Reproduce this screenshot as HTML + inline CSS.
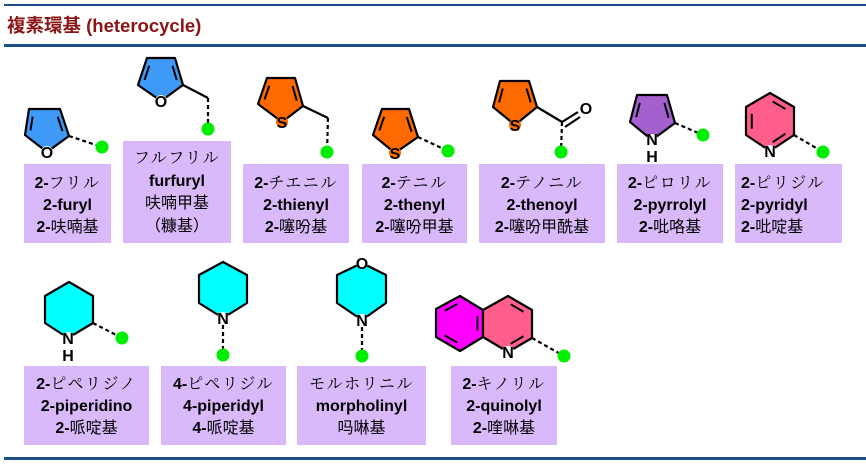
<!DOCTYPE html>
<html><head><meta charset="utf-8">
<style>
html,body{margin:0;padding:0;background:#fff;}
body{width:866px;height:465px;position:relative;overflow:hidden;font-family:"Liberation Sans","Noto Sans CJK JP",sans-serif;}
.hl{position:absolute;left:4px;right:0;background:#1f4f8a;}
.title{position:absolute;left:7px;top:12px;font-size:18.5px;font-weight:bold;color:#8b1414;white-space:nowrap;letter-spacing:0px;}
.box{position:absolute;background:#d9b9f9;text-align:center;font-size:16px;line-height:22px;color:#000;white-space:nowrap;}
.b{font-weight:bold;}
.k{font-family:"Noto Serif CJK JP","Liberation Serif",serif;font-weight:normal;letter-spacing:1.5px;}
svg{position:absolute;left:0;top:0;}
</style></head><body>
<div class="hl" style="top:4px;height:2px"></div>
<div class="title">複素環基 (heterocycle)</div>
<div class="hl" style="top:44px;height:3px"></div>
<div class="hl" style="top:457px;height:3px"></div>

<div class="box" style="left:24px;top:164px;width:87px;height:79px;padding-top:7px;box-sizing:border-box"><span class="b">2-</span><span class="k">フリル</span><br><span class="b">2-furyl</span><br><span class="b">2-</span>呋喃基</div>
<div class="box" style="left:123px;top:141px;width:108px;height:102px;padding-top:5px;box-sizing:border-box;line-height:22.5px"><span class="k">フルフリル</span><br><span class="b">furfuryl</span><br>呋喃甲基<br>（糠基）</div>
<div class="box" style="left:243px;top:164px;width:106px;height:79px;padding-top:7px;box-sizing:border-box"><span class="b">2-</span><span class="k">チエニル</span><br><span class="b">2-thienyl</span><br><span class="b">2-</span>噻吩基</div>
<div class="box" style="left:362px;top:164px;width:105px;height:79px;padding-top:7px;box-sizing:border-box"><span class="b">2-</span><span class="k">テニル</span><br><span class="b">2-thenyl</span><br><span class="b">2-</span>噻吩甲基</div>
<div class="box" style="left:479px;top:164px;width:126px;height:79px;padding-top:7px;box-sizing:border-box"><span class="b">2-</span><span class="k">テノニル</span><br><span class="b">2-thenoyl</span><br><span class="b">2-</span>噻吩甲酰基</div>
<div class="box" style="left:617px;top:164px;width:106px;height:79px;padding-top:7px;box-sizing:border-box"><span class="b">2-</span><span class="k">ピロリル</span><br><span class="b">2-pyrrolyl</span><br><span class="b">2-</span>吡咯基</div>
<div class="box" style="left:735px;top:164px;width:107px;height:79px;padding-top:7px;box-sizing:border-box;text-align:left;padding-left:6px"><span class="b">2-</span><span class="k">ピリジル</span><br><span class="b">2-pyridyl</span><br><span class="b">2-</span>吡啶基</div>

<div class="box" style="left:24px;top:366px;width:125px;height:79px;padding-top:6px;box-sizing:border-box"><span class="b">2-</span><span class="k">ピペリジノ</span><br><span class="b">2-piperidino</span><br><span class="b">2-</span>哌啶基</div>
<div class="box" style="left:161px;top:366px;width:125px;height:79px;padding-top:6px;box-sizing:border-box"><span class="b">4-</span><span class="k">ピペリジル</span><br><span class="b">4-piperidyl</span><br><span class="b">4-</span>哌啶基</div>
<div class="box" style="left:297px;top:366px;width:129px;height:79px;padding-top:6px;box-sizing:border-box"><span class="k">モルホリニル</span><br><span class="b">morpholinyl</span><br>吗啉基</div>
<div class="box" style="left:451px;top:366px;width:106px;height:79px;padding-top:6px;box-sizing:border-box"><span class="b">2-</span><span class="k">キノリル</span><br><span class="b">2-quinolyl</span><br><span class="b">2-</span>喹啉基</div>

<svg width="866" height="465" viewBox="0 0 866 465" font-family="Liberation Sans, sans-serif" font-weight="bold" font-size="16">
<g stroke="#000" stroke-width="2.2" stroke-linejoin="round">
<polygon points="29,109 60,109 69,136 47,152 25,135" fill="#3f9af7"/>
<line x1="69" y1="136" x2="102" y2="147" stroke-dasharray="4,3"/>
<polygon points="147,58 175,58 183,85 161,101 138,85" fill="#3f9af7"/>
<polyline points="183,85 208,98" fill="none"/>
<line x1="208" y1="98" x2="208" y2="129" stroke-dasharray="4,3"/>
<polygon points="267,78 295,78 303,106 282,122 258,104" fill="#ff6a00"/>
<polyline points="303,106 328,118" fill="none"/>
<line x1="328" y1="118" x2="327" y2="152" stroke-dasharray="4,3"/>
<polygon points="382,109 409,109 418,137 395,153 373,135" fill="#ff6a00"/>
<line x1="418" y1="137" x2="448" y2="151" stroke-dasharray="4,3"/>
<polygon points="500,81 529,81 537,107 515,125 493,107" fill="#ff6a00"/>
<polyline points="537,107 562,122" fill="none"/>
<line x1="562" y1="122" x2="578" y2="112"/>
<line x1="565" y1="127" x2="580" y2="117"/>
<line x1="562" y1="122" x2="561" y2="152" stroke-dasharray="4,3"/>
<polygon points="637,95 667,95 675,123 652,140 630,122" fill="#a560cf"/>
<line x1="675" y1="123" x2="703" y2="135" stroke-dasharray="4,3"/>
<polygon points="770,93 794,107 794,135 770,151 746,135 746,107" fill="#ff5e8a"/>
<line x1="794" y1="135" x2="823" y2="152" stroke-dasharray="4,3"/>
<polygon points="69,282 93,296 93,323 68,338 45,323 45,296" fill="#00ffff"/>
<line x1="93" y1="323" x2="122" y2="338" stroke-dasharray="4,3"/>
<polygon points="223,262 247,275 247,303 223,318 199,303 199,275" fill="#00ffff"/>
<line x1="223" y1="318" x2="223" y2="355" stroke-dasharray="4,3"/>
<polygon points="362,263 386,275 386,303 362,320 337,303 337,275" fill="#00ffff"/>
<line x1="362" y1="320" x2="362" y2="356" stroke-dasharray="4,3"/>
<polygon points="460,296 483,310 483,337 460,351 436,337 436,309" fill="#ff00ff"/>
<polygon points="508,296 532,310 532,338 508,352 483,337 483,310" fill="#ff5e8a"/>
<line x1="532" y1="338" x2="564" y2="356" stroke-dasharray="4,3"/>
<g id="inner" stroke-width="2"></g>
</g>
<g fill="#00ee00">
<circle cx="102" cy="147" r="6.5"/><circle cx="208" cy="129" r="6.5"/><circle cx="327" cy="152" r="6.5"/>
<circle cx="448" cy="151" r="6.5"/><circle cx="561" cy="152" r="6.5"/><circle cx="703" cy="135" r="6.5"/>
<circle cx="823" cy="152" r="6.5"/><circle cx="122" cy="338" r="6.5"/><circle cx="223" cy="355" r="6.5"/>
<circle cx="362" cy="356" r="6.5"/><circle cx="564" cy="356" r="6.5"/>
</g>
<g text-anchor="middle">
<circle cx="47" cy="152" r="6" fill="#fff"/><text x="47" y="158">O</text>
<circle cx="161" cy="101" r="6" fill="#fff"/><text x="161" y="107">O</text>
<circle cx="282" cy="122" r="6" fill="#ff6a00"/><text x="282" y="128">S</text>
<circle cx="395" cy="153" r="6" fill="#ff6a00"/><text x="395" y="159">S</text>
<circle cx="515" cy="125" r="6" fill="#ff6a00"/><text x="515" y="131">S</text>
<circle cx="586" cy="108" r="7" fill="#fff"/><text x="586" y="114">O</text>
<circle cx="652" cy="140" r="6" fill="#fff"/><text x="652" y="145">N</text><text x="652" y="162">H</text>
<circle cx="770" cy="151" r="6" fill="#fff"/><text x="770" y="157">N</text>
<circle cx="68" cy="338" r="6" fill="#fff"/><text x="68" y="344">N</text><text x="68" y="361">H</text>
<circle cx="223" cy="318" r="6" fill="#fff"/><text x="223" y="324">N</text>
<circle cx="362" cy="263" r="6" fill="#fff"/><text x="362" y="269">O</text>
<circle cx="362" cy="320" r="6" fill="#fff"/><text x="362" y="326">N</text>
<circle cx="508" cy="352" r="6" fill="#fff"/><text x="508" y="358">N</text>
</g>
</svg>
<script>
(function(){
var g=document.getElementById('inner');
function inner(p1,p2,c){
 var f=0.24,t=0.15;
 var a=[p1[0]+(c[0]-p1[0])*f,p1[1]+(c[1]-p1[1])*f],b=[p2[0]+(c[0]-p2[0])*f,p2[1]+(c[1]-p2[1])*f];
 var x1=a[0]+(b[0]-a[0])*t,y1=a[1]+(b[1]-a[1])*t,x2=b[0]-(b[0]-a[0])*t,y2=b[1]-(b[1]-a[1])*t;
 var l=document.createElementNS('http://www.w3.org/2000/svg','line');
 l.setAttribute('x1',x1);l.setAttribute('y1',y1);l.setAttribute('x2',x2);l.setAttribute('y2',y2);g.appendChild(l);
}
function pent(p){var c=[0,0];p.forEach(function(q){c[0]+=q[0]/5;c[1]+=q[1]/5});inner(p[0],p[4],c);inner(p[1],p[2],c);}
pent([[29,109],[60,109],[69,136],[47,152],[25,135]]);
pent([[147,58],[175,58],[183,85],[161,101],[138,85]]);
pent([[267,78],[295,78],[303,106],[282,122],[258,104]]);
pent([[382,109],[409,109],[418,137],[395,153],[373,135]]);
pent([[500,81],[529,81],[537,107],[515,125],[493,107]]);
pent([[637,95],[667,95],[675,123],[652,140],[630,122]]);
var c=[770,122];inner([746,107],[746,135],c);inner([770,93],[794,107],c);inner([794,135],[770,151],c);
c=[460,323];inner([460,296],[436,309],c);inner([483,310],[483,337],c);inner([436,337],[460,351],c);
c=[508,324];inner([508,296],[532,310],c);inner([532,338],[508,352],c);
})();
</script>
</body></html>
